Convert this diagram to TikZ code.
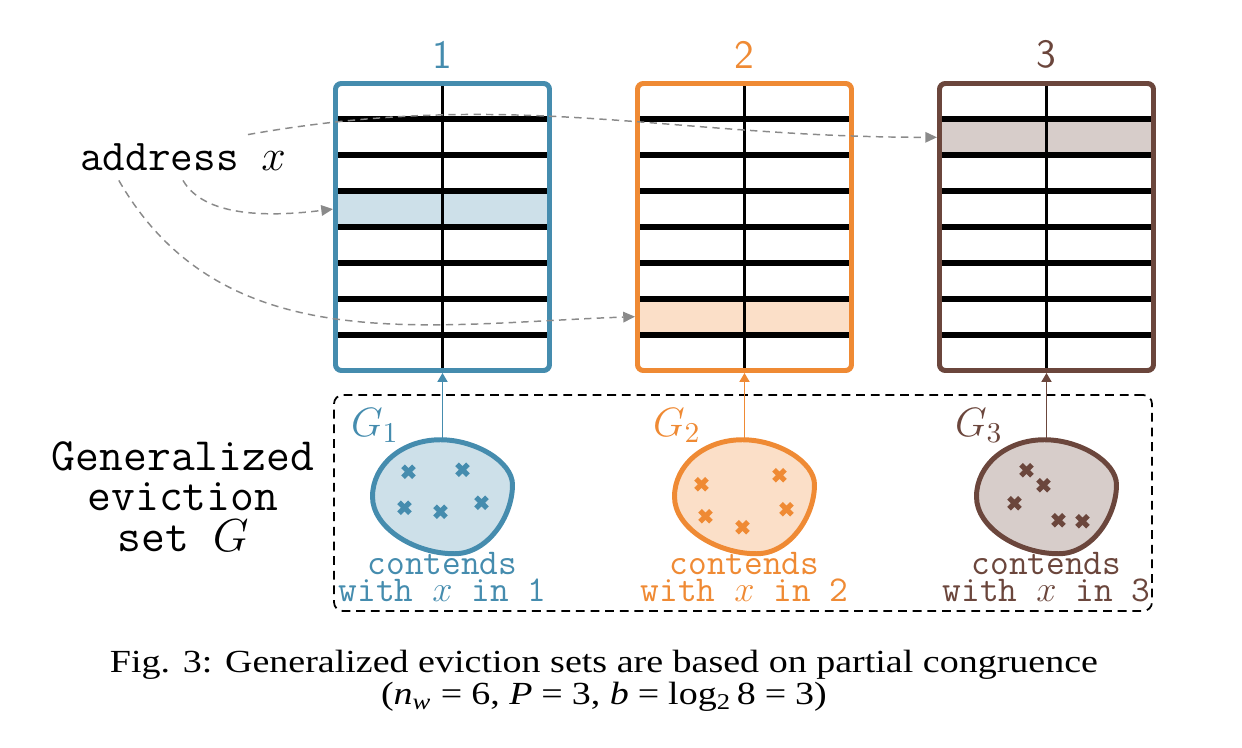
\documentclass[tikz,border=0pt]{standalone}
\usepackage{fix-cm}
\usepackage{fontspec}
\newfontfamily\capfont[FakeStretch=1.18]{Liberation Serif}
\usetikzlibrary{arrows.meta, positioning, calc}
\definecolor{setblue}{HTML}{458CAE}
\definecolor{setorange}{HTML}{EF8A34}
\definecolor{setbrown}{HTML}{6B463C}
\definecolor{addrgray}{HTML}{8A8A8A}
\tikzset{
  cachebox/.style={minimum width=2.568cm, minimum height=3.444cm, inner sep=0pt, outer sep=0pt},
  rowline/.style={line width=2pt, draw=black},
  wayline/.style={line width=0.7pt, draw=black},
  lookup/.style={-{Triangle[length=4pt,width=3.6pt]}, draw=addrgray, line width=0.5pt, dash pattern=on 2.5pt off 1.8pt},
  setline/.style={-{Triangle[length=3pt,width=3.4pt]}, line width=0.5pt},
  groupbox/.style={draw, dash pattern=on 3pt off 2pt, line width=0.6pt, rounded corners=3pt,
    minimum width=9.816cm, minimum height=2.592cm, inner sep=0pt},
  ttlab/.style={font=\fontsize{15}{13.7}\selectfont\ttfamily, align=center},
  contlab/.style={font=\fontsize{12.4}{14}\selectfont\ttfamily, inner sep=0pt, anchor=base},
  caplab/.style={font=\fontsize{11}{13}\capfont, inner sep=0pt, anchor=base},
  pics/xmark/.style={code={\draw[line width=1.8pt] (-0.065,-0.065) -- (0.065,0.065) (-0.065,0.065) -- (0.065,-0.065);}}
}
\begin{document}
\begin{tikzpicture}
\useasboundingbox (0,0) rectangle (14.904,8.976);
% the three cache slices
\node[cachebox] (c1) at (5.31,6.252) {};
\node[cachebox, right=1.056cm of c1] (c2) {};
\node[cachebox, right=1.056cm of c2] (c3) {};
\foreach \i/\col/\hl in {1/setblue/4, 2/setorange/7, 3/setbrown/2}{
  \fill[\col!27] ($(c\i.north west)+(0,-\hl*0.4305+0.4305)$) rectangle ($(c\i.north east)+(0,-\hl*0.4305)$);
  \draw[wayline] (c\i.north) -- (c\i.south);
  \foreach \k in {1,...,7}
    \draw[rowline] ($(c\i.north west)+(0,-\k*0.4305)$) -- ($(c\i.north east)+(0,-\k*0.4305)$);
  \draw[\col, line width=1.7pt, rounded corners=2pt] (c\i.south west) rectangle (c\i.north east);
  \node[text=\col, font=\fontsize{13.7}{16}\selectfont\sffamily, inner sep=0pt, above=0.17cm of c\i] (n\i) {\i};
}
% address and where it lands
\node[ttlab, inner sep=3pt] (addr) at (2.196,7.086) {address $x$};
\coordinate (hit1) at ($(c1.north west)+(-0.03,-3.5*0.4305)$);
\coordinate (hit2) at ($(c2.north west)+(-0.03,-6.5*0.4305)$);
\coordinate (hit3) at ($(c3.north west)+(-0.03,-1.5*0.4305)$);
\draw[lookup] (addr.south) to[out=-60, in=187, looseness=0.8] (hit1);
\draw[lookup] ([xshift=-0.77cm]addr.south) to[out=-60, in=182] (hit2);
\draw[lookup] ([xshift=0.78cm]addr.north) to[out=10, in=180] (hit3);
% generalized eviction set
\node[groupbox] (grp) at (8.916,2.94) {};
\node[ttlab, font=\fontsize{15.8}{13.8}\selectfont\ttfamily] (gen) at (2.196,3.02) {Generalized\\eviction\\set $G$};
\foreach \i/\col in {1/setblue, 2/setorange, 3/setbrown}{
  \coordinate (g\i) at ($(c\i.south)+(0,-1.515)$);
  \coordinate (gt\i) at ($(g\i)+(0,0.684)$);
  \begin{scope}[shift={(g\i)}]
    \draw[\col, fill=\col!27, line width=1.7pt] (-0.024,0.684) .. controls (0.396,0.684) and (0.84,0.42) .. (0.84,0.144)
      .. controls (0.84,-0.24) and (0.54,-0.684) .. (0.144,-0.684)
      .. controls (-0.336,-0.684) and (-0.84,-0.372) .. (-0.84,0)
      .. controls (-0.84,0.384) and (-0.48,0.684) .. cycle;
  \end{scope}
  \draw[setline, \col] (gt\i) -- ([yshift=-0.03cm]c\i.south);
  \node[text=\col, font=\fontsize{14}{16}\selectfont] (lab\i) at ($(c\i.south)+(-0.81,-0.66)$) {$G_\i$};
  \node[contlab, text=\col] (ct\i) at ($(c\i.south)+(0,-2.448)$) {contends};
  \node[contlab, text=\col] (wt\i) at ($(c\i.south)+(0,-2.772)$) {with $x$ in \i};
}
\begin{scope}[shift={(g1)}]
  \foreach \dx/\dy in {-0.408/0.3, 0.24/0.324, -0.456/-0.132, -0.024/-0.18, 0.468/-0.072}
    \pic[setblue] at (\dx,\dy) {xmark};
\end{scope}
\begin{scope}[shift={(g2)}]
  \foreach \dx/\dy in {-0.516/0.15, 0.42/0.258, -0.468/-0.234, -0.024/-0.366, 0.504/-0.15}
    \pic[setorange] at (\dx,\dy) {xmark};
\end{scope}
\begin{scope}[shift={(g3)}]
  \foreach \dx/\dy in {-0.24/0.318, -0.036/0.138, -0.384/-0.078, 0.144/-0.282, 0.432/-0.294}
    \pic[setbrown] at (\dx,\dy) {xmark};
\end{scope}
% caption
\node[caplab] (cap1) at (7.248,0.9) {Fig. 3: Generalized eviction sets are based on partial congruence};
\node[caplab] (cap2) at ($(cap1.base)+(0,-0.384)$)
  {({\itshape n}\textsubscript{\itshape w}\;=\;6, {\itshape P}\;=\;3, {\itshape b}\;=\;log\textsubscript{2}\,8\;=\;3)};
\end{tikzpicture}
\end{document}
